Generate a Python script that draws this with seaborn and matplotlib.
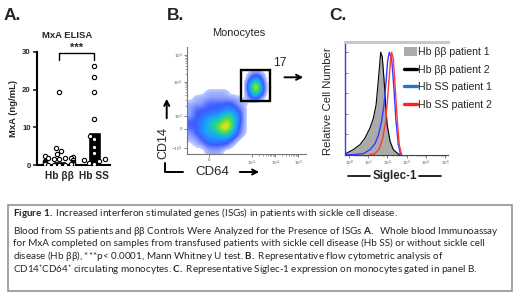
import numpy as np
import pandas as pd
import matplotlib
matplotlib.use("Agg")
import matplotlib.pyplot as plt
import seaborn as sns
from matplotlib.colors import LinearSegmentedColormap
from matplotlib.patches import Rectangle, Patch
from matplotlib.lines import Line2D
from matplotlib.ticker import FixedLocator

# ---------- panel A: MxA ELISA (ng/mL) ----------
groups = ["Hb ββ", "Hb SS"]
mxa_bb = [19.5, 4.4, 3.7, 2.8, 2.5, 2.0, 1.9, 1.8, 1.8, 1.6, 1.5, 1.2,
          1.0, 0.9, 0.8, 0.5, 0.4, 0.3, 0.2, 0.2, 0.1, 0.1, 0.0, 0.0]
mxa_ss = [26.4, 23.3, 19.3, 12.2, 7.8, 6.8, 4.9, 3.1, 1.5, 1.3, 1.0, 0.6, 0.3]
bar_heights = [1.0, 8.8]
mxa_ticks = [0, 10, 20, 30]

# ---------- panel B: CD64 x CD14 density (display fraction grid) ----------
# rows top -> bottom, cols left -> right, 0 = no events
density_rows = [
    "00000000000000000000",
    "00000000000000000000",
    "00000000000000000000",
    "00000000000000000000",
    "00000000001210000000",
    "00000000002420000000",
    "00000000004930000000",
    "00011110003730000000",
    "01111111102310000000",
    "11122222110000000000",
    "12222233210000000000",
    "12233455310000000000",
    "22345576310000000000",
    "22345786210000000000",
    "12344564210000000000",
    "11233332100000000000",
    "01122221000000000000",
    "00011100000000000000",
]
cd64_ticks = [0.187, 0.545, 0.74, 0.933]
cd64_labels = ["0", "$10^3$", "$10^4$", "$10^5$"]
cd14_ticks = [0.056, 0.234, 0.355, 0.676, 0.925]
cd14_labels = ["$-10^3$", "0", "$10^3$", "$10^4$", "$10^5$"]
gate_x = [0.453, 0.698]
gate_y = [0.4925, 0.785]
gate_pct = "17"

# ---------- panel C: Siglec-1 histograms (x = log10 intensity, y = % of max) ----------
bb1_x = [-0.21, -0.12, 0.22, 0.57, 0.83, 1.09, 1.27, 1.41, 1.49, 1.58, 1.65,
         1.73, 1.82, 1.91, 1.99, 2.14, 2.31, 2.57, 2.75]
bb1_y = [0, 1.6, 4.9, 9.8, 16.2, 26, 35.7, 48.6, 65, 84, 100,
         95.8, 74.5, 48.6, 29, 13, 4.9, 0.7, 0]
bb2_x = [-0.21, -0.12, 0.22, 0.57, 0.83, 1.09, 1.27, 1.41, 1.49, 1.58, 1.65,
         1.73, 1.82, 1.91, 1.99, 2.14, 2.31, 2.57, 2.75]
bb2_y = [0, 1.6, 4.9, 9.8, 16.2, 26, 35.7, 48.6, 65, 84, 100,
         95.8, 74.5, 48.6, 29, 13, 4.9, 0.7, 0]
ss1_x = [-0.21, 0.2, 0.74, 1.09, 1.35, 1.53, 1.70, 1.82, 1.93, 2.01, 2.10,
         2.22, 2.34, 2.45, 2.57, 2.69]
ss1_y = [0, 0, 1, 4.9, 10.7, 19, 32.5, 48.7, 70.8, 91, 100,
         94, 65, 32.5, 9.7, 0]
ss2_x = [1.09, 1.35, 1.58, 1.75, 1.91, 2.01, 2.10, 2.17, 2.22, 2.31, 2.41,
         2.52, 2.62, 2.74]
ss2_y = [0, 1, 5.8, 15.6, 32.5, 54.5, 77, 93.5, 100, 93.5, 65,
         32.5, 9.7, 0]
legend_labels = ["Hb ββ patient 1", "Hb ββ patient 2", "Hb SS patient 1", "Hb SS patient 2"]
decades = [0, 1, 2, 3, 4, 5]

caption_lines = [
    r"$\mathbf{Figure\ 1.}$ Increased interferon stimulated genes (ISGs) in patients with sickle cell disease.",
    r"Blood from SS patients and ββ Controls Were Analyzed for the Presence of ISGs $\mathbf{A.}$  Whole blood Immunoassay",
    r"for MxA completed on samples from transfused patients with sickle cell disease (Hb SS) or without sickle cell",
    r"disease (Hb ββ), ***p< 0.0001, Mann Whitney U test. $\mathbf{B.}$ Representative flow cytometric analysis of",
    r"CD14⁺CD64⁺ circulating monocytes. $\mathbf{C.}$ Representative Siglec-1 expression on monocytes gated in panel B.",
]

sns.set_theme(style="ticks")
plt.rcParams['font.family'] = ['Liberation Sans', 'DejaVu Sans']
plt.rcParams['mathtext.fontset'] = 'custom'
plt.rcParams['mathtext.rm'] = 'Lato'
plt.rcParams['mathtext.it'] = 'Lato:italic'
plt.rcParams['mathtext.bf'] = 'Lato:bold'

W, H = 520, 300
fig = plt.figure(figsize=(5.2, 3.0), dpi=100)


def fx(px):
    return px / W


def fy(py):
    return 1 - py / H


def rect(l, t, r, b):
    return [fx(l), fy(b), (r - l) / W, (b - t) / H]


def fig_line(xs, ys, lw=1.3, color="black"):
    fig.add_artist(Line2D([fx(x) for x in xs], [fy(y) for y in ys], lw=lw, color=color))


def fig_arrow(x0, y0, x1, y1):
    fig.add_artist(matplotlib.patches.FancyArrowPatch(
        (fx(x0), fy(y0)), (fx(x1), fy(y1)), transform=fig.transFigure,
        arrowstyle="->", mutation_scale=9, lw=1.4, color="black"))


# ---------- panel A ----------
axA = fig.add_axes(rect(37, 52, 110, 165))
df = pd.DataFrame({"group": [groups[0]] * len(mxa_bb) + [groups[1]] * len(mxa_ss),
                   "mxa": mxa_bb + mxa_ss})
sns.barplot(x=groups, y=bar_heights, color="black", saturation=1, width=0.38,
            errorbar=None, ax=axA)
sns.swarmplot(data=df, x="group", y="mxa", order=groups, color="white",
              edgecolor="black", linewidth=0.8, size=3.1, ax=axA, warn_thresh=1)
axA.set_xlim(-0.64, 1.45)
axA.set_ylim(0, 30)
axA.set_yticks(mxa_ticks)
axA.set_xlabel("")
axA.set_ylabel("MxA (ng/mL)", fontsize=6.8, fontweight="bold", labelpad=3)
axA.set_xticks([0, 1])
axA.set_xticklabels(groups, fontsize=7.3, fontweight="bold")
for lab in axA.get_yticklabels():
    lab.set_fontweight("bold")
axA.tick_params(axis="y", labelsize=5.6, length=3, width=1.2, pad=1.5)
axA.tick_params(axis="x", length=0, pad=4)
for s in ["top", "right"]:
    axA.spines[s].set_visible(False)
for s in ["left", "bottom"]:
    axA.spines[s].set_linewidth(1.5)
    axA.spines[s].set_color("black")
axA.plot([0, 0, 1, 1], [27.9, 29.8, 29.8, 27.9], color="black", lw=1, clip_on=False)
axA.text(0.5, 29.9, "***", ha="center", va="bottom", fontsize=8, fontweight="bold")
fig.text(fx(67.5), fy(35), "MxA ELISA", ha="center", va="center", fontsize=6.8, fontweight="bold")
fig.text(fx(4), fy(15.5), "A.", ha="left", va="center", fontsize=12.5, fontweight="bold")

# ---------- panel B ----------
axB = fig.add_axes(rect(186.7, 47, 306, 154))
grid = np.array([[int(c) for c in row] for row in density_rows], dtype=float)
flow_cmap = LinearSegmentedColormap.from_list("flow", [
    (0.0, "#c8d2ff"), (0.176, "#3d5cff"), (0.353, "#1aa0ff"), (0.529, "#20d0a0"),
    (0.647, "#60e040"), (0.765, "#e0e020"), (0.882, "#ff7000"), (1.0, "#e00000")
]).with_extremes(under="white")
axB.imshow(grid, extent=(0, 1, 0, 1), origin="upper", aspect="auto", cmap=flow_cmap,
           vmin=0.5, vmax=9, interpolation="bicubic", interpolation_stage="data")
axB.add_patch(Rectangle((gate_x[0], gate_y[0]), gate_x[1] - gate_x[0], gate_y[1] - gate_y[0],
                        fill=False, lw=1.7, ec="black"))
axB.set_xlim(0, 1)
axB.set_ylim(0, 1)
axB.set_xticks(cd64_ticks)
axB.set_xticklabels(cd64_labels)
axB.set_yticks(cd14_ticks)
axB.set_yticklabels(cd14_labels)


def minors(a, b):
    return [a + (b - a) * np.log10(k) for k in range(2, 10)]


axB.xaxis.set_minor_locator(FixedLocator(minors(cd64_ticks[1], cd64_ticks[2]) + minors(cd64_ticks[2], cd64_ticks[3])))
axB.yaxis.set_minor_locator(FixedLocator(minors(cd14_ticks[2], cd14_ticks[3]) + minors(cd14_ticks[3], cd14_ticks[4])))
axB.tick_params(which="major", labelsize=3.2, colors="#555555", length=2.2, width=0.5, pad=1)
axB.tick_params(which="minor", length=1.2, width=0.4, colors="#555555")
for s in ["top", "right"]:
    axB.spines[s].set_visible(False)
for s in ["left", "bottom"]:
    axB.spines[s].set_linewidth(0.8)
    axB.spines[s].set_color("#777777")
fig.text(fx(238.3), fy(33.3), "Monocytes", ha="center", va="center", fontsize=7.9)
fig.text(fx(167), fy(15.5), "B.", ha="left", va="center", fontsize=12.5, fontweight="bold")
fig.text(fx(280), fy(63), gate_pct, ha="center", va="center", fontsize=8.8)
fig_arrow(281.7, 77.3, 306, 77.3)
fig.text(fx(163), fy(143), "CD14", ha="center", va="center", rotation=90, fontsize=9)
fig_arrow(166.7, 121, 166.7, 96)
fig_line([165, 165, 183], [163, 172, 172], lw=1.4)
fig.text(fx(212.5), fy(172), "CD64", ha="center", va="center", fontsize=9.5)
fig_arrow(237, 172, 262, 172)

# ---------- panel C ----------
axC = fig.add_axes(rect(345, 42, 448, 154.7))
axC.fill_between(bb1_x, bb1_y, 0, color="#ababab", lw=0)
sns.lineplot(x=bb2_x, y=bb2_y, color="black", lw=0.8, estimator=None, sort=False, ax=axC)
sns.lineplot(x=ss1_x, y=ss1_y, color="#3a3aff", lw=1.0, estimator=None, sort=False, ax=axC)
sns.lineplot(x=ss2_x, y=ss2_y, color="#ff3a3a", lw=1.0, estimator=None, sort=False, ax=axC)
axC.set_xlim(-0.21, 5.16)
axC.set_ylim(0, 110)
axC.set_xticks(decades)
axC.set_xticklabels([f"$10^{d}$" for d in decades])
axC.xaxis.set_minor_locator(FixedLocator([d + np.log10(k) for d in decades[:-1] for k in range(2, 10)]))
axC.set_yticks([0, 20, 40, 60, 80, 100])
axC.set_yticklabels([])
axC.tick_params(axis="x", which="major", labelsize=3.2, colors="#555555", length=2, width=0.5, pad=1)
axC.tick_params(axis="x", which="minor", length=1, width=0.4, colors="#555555")
axC.tick_params(axis="y", direction="in", length=2, width=0.5, colors="#555555")
axC.spines["right"].set_visible(False)
axC.spines["top"].set_color("#c8c8c8")
axC.spines["top"].set_linewidth(2.2)
axC.spines["left"].set_color("#3a3aff")
axC.spines["left"].set_linewidth(1.0)
axC.spines["bottom"].set_color("#444444")
axC.spines["bottom"].set_linewidth(0.8)
axC.set_xlabel("")
axC.set_ylabel("")
handles = [Patch(facecolor="#ababab", edgecolor="none"),
           Line2D([], [], color="black", lw=2.4),
           Line2D([], [], color="#2a70d0", lw=2.4),
           Line2D([], [], color="#ff2020", lw=2.4)]
axC.legend(handles, legend_labels, loc="upper left", bbox_to_anchor=(fx(404), fy(47)),
           bbox_transform=fig.transFigure, frameon=False, fontsize=7.6, handlelength=1.2,
           handleheight=0.9, handletextpad=0.15, labelspacing=0.72, borderpad=0, borderaxespad=0)
fig.text(fx(328), fy(101), "Relative Cell Number", ha="center", va="center", rotation=90, fontsize=8.2)
fig.text(fx(394.5), fy(176), "Siglec-1", ha="center", va="center", fontsize=8.3, fontweight="bold")
fig_line([348, 370], [176, 176], lw=1.2)
fig_line([419, 441], [176, 176], lw=1.2)
fig.text(fx(329), fy(15.5), "C.", ha="left", va="center", fontsize=12.5, fontweight="bold")

# ---------- caption ----------
fig.add_artist(Rectangle((fx(8), fy(291)), (512 - 8) / W, (291 - 205) / H, transform=fig.transFigure,
                         fill=False, ec="#8a8a8a", lw=1.1))
cap_y = [213, 231, 243.5, 256, 268.5]
cap_texts = [fig.text(fx(13), fy(y), s, ha="left", va="center", fontsize=7,
                      family=["Lato", "DejaVu Sans"]) for y, s in zip(cap_y, caption_lines)]
renderer = fig.canvas.get_renderer()
w2 = cap_texts[1].get_window_extent(renderer).width
for t in cap_texts:
    t.set_fontsize(7 * 486 / w2)

fig.savefig("out.png", dpi=100)
